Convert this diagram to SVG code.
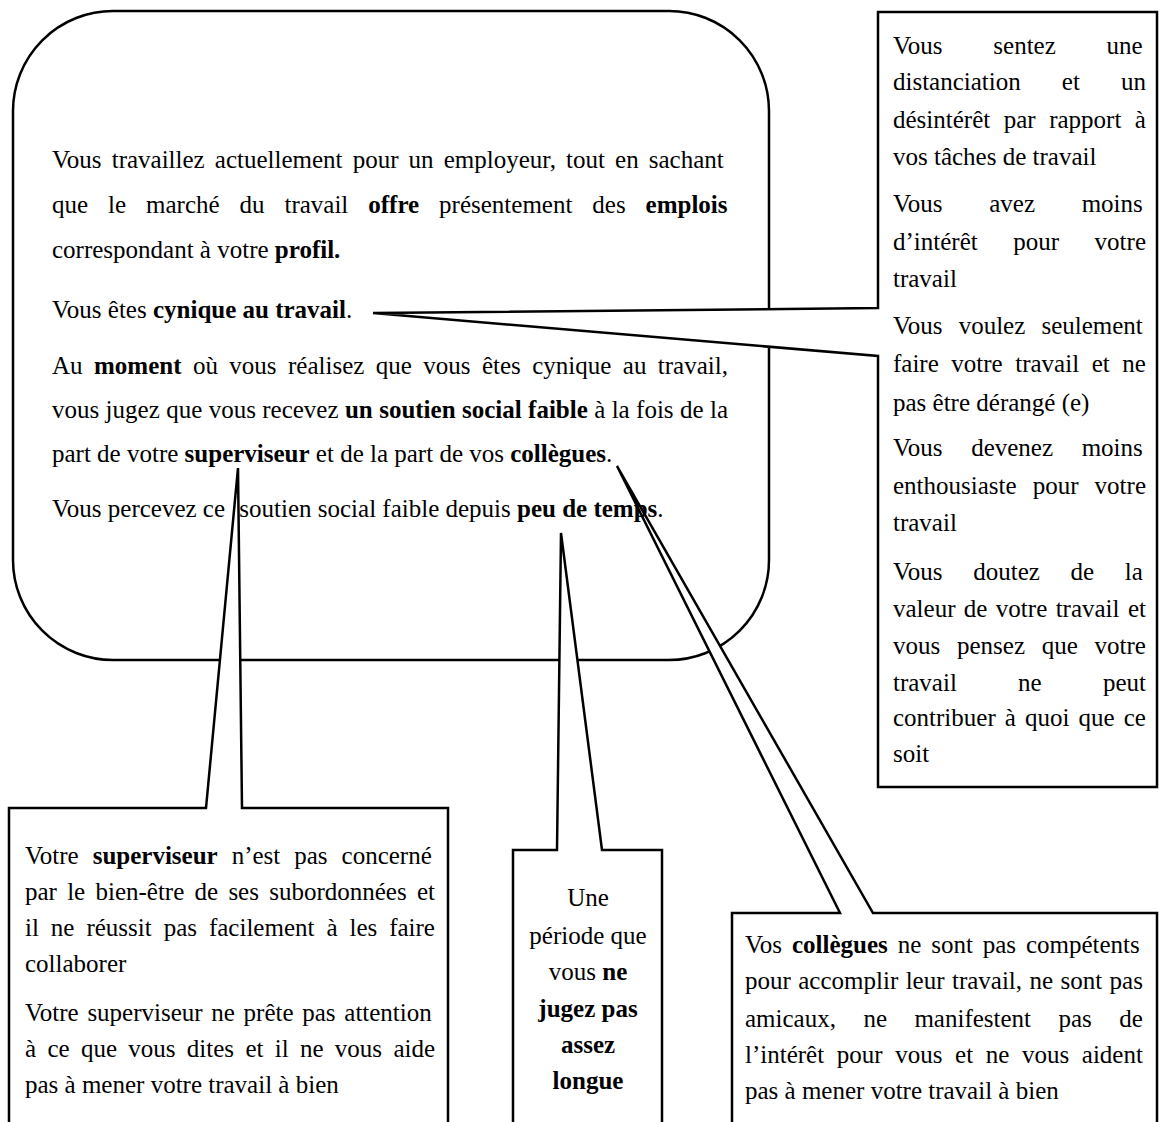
<svg xmlns="http://www.w3.org/2000/svg" width="1159" height="1122" viewBox="0 0 1159 1122">
  <style>
    .frame { fill: #fff; stroke: #000; stroke-width: 2.5; stroke-linejoin: miter; }
    .t { font-family: "Liberation Serif", "Times New Roman", serif; font-size: 25px; fill: #000; }
    .b { font-weight: bold; }
    .c { text-anchor: middle; }
  </style>
  <rect width="1159" height="1122" fill="#fff"/>

  <!-- central scenario bubble (outline first, so the callout pointers can break its edge) -->
  <g id="scenario">
    <rect class="frame" x="13" y="11" width="756" height="649" rx="100" ry="100"/>
  </g>

  <!-- callout pointers and their boxes -->
  <g id="connectors">
    <g id="cynicism">
      <polygon class="frame" points="878,12 1157,12 1157,787 878,787 878,356 373,313 878,308"/>
      <text class="t" x="893" y="54" style="word-spacing:44.5px">Vous sentez une</text>
      <text class="t" x="893" y="90" style="word-spacing:34.8px">distanciation et un</text>
      <text class="t" x="893" y="128" style="word-spacing:7.27px">désintérêt par rapport à</text>
      <text class="t" x="893" y="165">vos tâches de travail</text>
      <text class="t" x="893" y="212" style="word-spacing:40.4px">Vous avez moins</text>
      <text class="t" x="893" y="250" style="word-spacing:29.3px">d’intérêt pour votre</text>
      <text class="t" x="893" y="287">travail</text>
      <text class="t" x="893" y="334" style="word-spacing:9.85px">Vous voulez seulement</text>
      <text class="t" x="893" y="372" style="word-spacing:6.3px">faire votre travail et ne</text>
      <text class="t" x="893" y="411">pas être dérangé (e)</text>
      <text class="t" x="893" y="456" style="word-spacing:22.35px">Vous devenez moins</text>
      <text class="t" x="893" y="494" style="word-spacing:9.85px">enthousiaste pour votre</text>
      <text class="t" x="893" y="531">travail</text>
      <text class="t" x="893" y="580" style="word-spacing:24.4px">Vous doutez de la</text>
      <text class="t" x="893" y="617" style="word-spacing:2.15px">valeur de votre travail et</text>
      <text class="t" x="893" y="654" style="word-spacing:10.5px">vous pensez que votre</text>
      <text class="t" x="893" y="691" style="word-spacing:55px">travail ne peut</text>
      <text class="t" x="893" y="726" style="word-spacing:2.85px">contribuer à quoi que ce</text>
      <text class="t" x="893" y="762">soit</text>
    </g>

    <g id="supervisor">
      <polygon class="frame" points="9,808 206,808 238,468 242,808 448,808 448,1140 9,1140"/>
      <text class="t" x="25" y="864" style="word-spacing:7.73px">Votre <tspan class="b">superviseur</tspan> n’est pas concerné</text>
      <text class="t" x="25" y="900" style="word-spacing:4px">par le bien-être de ses subordonnées et</text>
      <text class="t" x="25" y="936" style="word-spacing:5.71px">il ne réussit pas facilement à les faire</text>
      <text class="t" x="25" y="972">collaborer</text>
      <text class="t" x="25" y="1021" style="word-spacing:2.44px">Votre superviseur ne prête pas attention</text>
      <text class="t" x="25" y="1057" style="word-spacing:5.06px">à ce que vous dites et il ne vous aide</text>
      <text class="t" x="25" y="1093">pas à mener votre travail à bien</text>
    </g>

    <g id="duration">
      <polygon class="frame" points="513,850 557,850 561,533 602,850 662,850 662,1140 513,1140"/>
      <text class="t c" x="588" y="906">Une</text>
      <text class="t c" x="588" y="944">période que</text>
      <text class="t c" x="588" y="980">vous <tspan class="b">ne</tspan></text>
      <text class="t c b" x="588" y="1017">jugez pas</text>
      <text class="t c b" x="588" y="1053">assez</text>
      <text class="t c b" x="588" y="1089">longue</text>
    </g>

    <g id="colleagues">
      <polygon class="frame" points="732,913 840,913 617,466 873,913 1157,913 1157,1140 732,1140"/>
      <text class="t" x="745" y="953" style="word-spacing:3.64px">Vos <tspan class="b">collègues</tspan> ne sont pas compétents</text>
      <text class="t" x="745" y="989" style="word-spacing:1.18px">pour accomplir leur travail, ne sont pas</text>
      <text class="t" x="745" y="1027" style="word-spacing:21.2px">amicaux, ne manifestent pas de</text>
      <text class="t" x="745" y="1063" style="word-spacing:6.38px">l’intérêt pour vous et ne vous aident</text>
      <text class="t" x="745" y="1099">pas à mener votre travail à bien</text>
    </g>
  </g>

  <!-- scenario text, drawn over the pointer tips -->
  <g id="scenario-text">
    <text class="t" x="52" y="168" style="word-spacing:3.88px">Vous travaillez actuellement pour un employeur, tout en sachant</text>
    <text class="t" x="52" y="213" style="word-spacing:13.69px">que le marché du travail <tspan class="b">offre</tspan> présentement des <tspan class="b">emplois</tspan></text>
    <text class="t" x="52" y="258">correspondant à votre <tspan class="b">profil.</tspan></text>
    <text class="t" x="52" y="318">Vous êtes <tspan class="b">cynique au travail</tspan>.</text>
    <text class="t" x="52" y="374" style="word-spacing:5.18px">Au <tspan class="b">moment</tspan> où vous réalisez que vous êtes cynique au travail,</text>
    <text class="t" x="52" y="418" style="word-spacing:0.14px">vous jugez que vous recevez <tspan class="b">un soutien social faible</tspan> à la fois de la</text>
    <text class="t" x="52" y="462">part de votre <tspan class="b">superviseur</tspan> et de la part de vos <tspan class="b">collègues</tspan>.</text>
    <text class="t" x="52" y="517">Vous percevez ce <tspan dx="8">soutien</tspan> social faible depuis <tspan class="b">peu de temps</tspan>.</text>
  </g>
</svg>
